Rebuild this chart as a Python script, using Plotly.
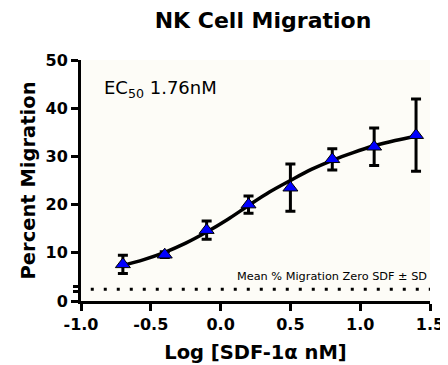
import plotly.graph_objects as go

# ---- data ----
log_conc = [-0.7, -0.4, -0.1, 0.2, 0.5, 0.8, 1.1, 1.4]
mean_migration = [7.6, 9.6, 14.7, 20.0, 23.5, 29.4, 32.0, 34.4]
sd_migration = [1.9, 0.6, 1.9, 1.8, 4.9, 2.2, 3.9, 7.5]

fit_x = [-0.7, -0.55, -0.4, -0.25, -0.1, 0.05, 0.2, 0.35, 0.5, 0.65, 0.8, 0.95, 1.1, 1.25, 1.4]
fit_y = [7.4, 8.6, 10.1, 12.0, 14.3, 16.9, 19.8, 22.6, 25.0, 27.3, 29.2, 30.8, 32.2, 33.3, 34.2]

baseline_mean = 2.46
baseline_sd = 0.59

x_ticks = [-1.0, -0.5, 0.0, 0.5, 1.0, 1.5]
y_ticks = [0, 10, 20, 30, 40, 50]

title_text = "NK Cell Migration"
x_title = "Log [SDF-1α nM]"
y_title = "Percent Migration"
ec50_text = "EC<sub>50</sub> 1.76nM"
baseline_text = "Mean % Migration Zero SDF ± SD"

FONT = "DejaVu Sans"

fig = go.Figure()

# baseline dotted line (on the overlay axis that carries the SD ticks)
fig.add_trace(go.Scatter(
    x=[x_ticks[0] + 0.07, x_ticks[-1]], y=[baseline_mean, baseline_mean],
    mode="lines", line=dict(color="black", width=3, dash="3px,10px"),
    yaxis="y2", hoverinfo="skip", showlegend=False))

# fitted curve
fig.add_trace(go.Scatter(
    x=fit_x, y=fit_y, mode="lines",
    line=dict(color="black", width=3.5, shape="spline"),
    hoverinfo="skip", showlegend=False))

# data points with SD
fig.add_trace(go.Scatter(
    x=log_conc, y=mean_migration, mode="markers",
    marker=dict(symbol="triangle-up", size=13, color="#0000ff",
                line=dict(color="black", width=1)),
    error_y=dict(type="data", array=sd_migration, visible=True,
                 color="black", thickness=3, width=5),
    showlegend=False))

axis_common = dict(showgrid=False, zeroline=False,
                   ticks="outside", ticklen=7, tickwidth=3, tickcolor="black")

fig.update_layout(
    width=448, height=365,
    margin=dict(l=73, r=15, t=52, b=72),
    paper_bgcolor="white",
    plot_bgcolor="#fdfcf7",
    font=dict(family=FONT, color="black"),
    title=dict(text=f"<b>{title_text}</b>", x=255/448, xanchor="center",
               y=1 - 12/365, yanchor="middle", yref="container",
               font=dict(size=22, family=FONT, color="black")),
    xaxis=dict(
        range=[x_ticks[0], x_ticks[-1]], tickvals=x_ticks,
        ticktext=[f"{v:.1f}" for v in x_ticks],
        showline=True, linecolor="black", linewidth=3,
        tickfont=dict(size=16, family=FONT, color="black", weight="bold"),
        title=dict(text=f"<b>{x_title}</b>", standoff=13,
                   font=dict(size=19.5, family=FONT, color="black")),
        **axis_common,
    ),
    yaxis=dict(
        range=[0, 50], tickvals=y_ticks, ticktext=[str(v) for v in y_ticks],
        showline=True, linecolor="black", linewidth=3,
        tickfont=dict(size=16, family=FONT, color="black", weight="bold"),
        title=dict(text=f"<b>{y_title}</b>", standoff=5,
                   font=dict(size=19.5, family=FONT, color="black")),
        **axis_common,
    ),
    yaxis2=dict(
        range=[0, 50], overlaying="y", side="left",
        tickvals=[baseline_mean - baseline_sd, baseline_mean + baseline_sd],
        showticklabels=False, showline=False,
        **axis_common,
    ),
    annotations=[
        dict(x=-0.85, y=44, xref="x", yref="y", text=ec50_text,
             showarrow=False, xanchor="left", yanchor="middle",
             font=dict(size=18, family=FONT, color="black")),
        dict(x=1.495, y=5, xref="x", yref="y", text=baseline_text,
             showarrow=False, xanchor="right", yanchor="middle",
             font=dict(size=11.3, family=FONT, color="black")),
    ],
)

fig.write_html("out.html")
